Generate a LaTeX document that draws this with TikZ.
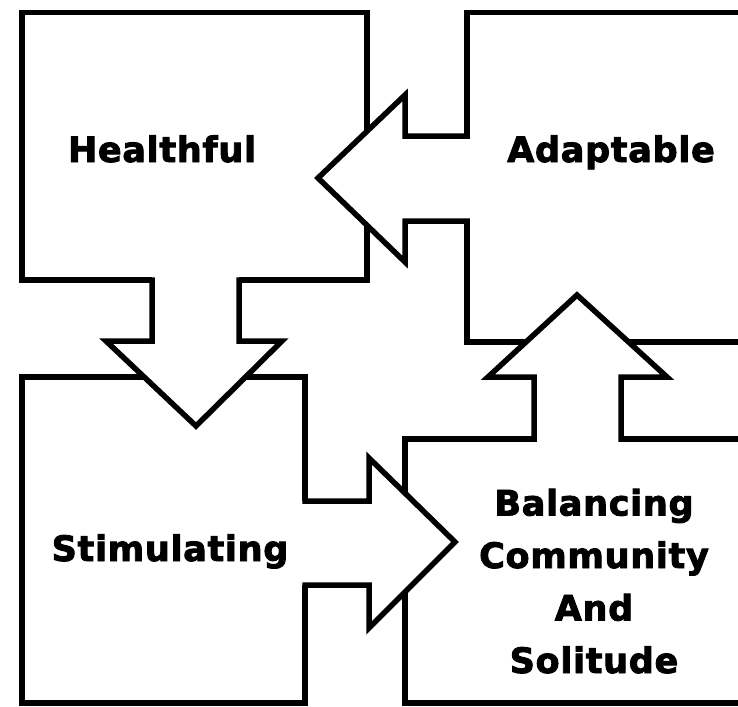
\documentclass[tikz,border=0pt]{standalone}
\usepackage{fontspec}
\newfontfamily\labelfont{DejaVu Sans}[LetterSpace=2.0, BoldFeatures={FakeBold=2.5}]
\usetikzlibrary{positioning}

\begin{document}
\begin{tikzpicture}[x=1pt, y=-1pt,
    box/.style={draw, line width=5.5pt, fill=white, rectangle, inner sep=0pt},
    lbl/.style={font=\labelfont\bfseries\fontsize{35}{52.5}\selectfont, anchor=base},
    blockfill/.style={fill=white},
    blockline/.style={draw, line width=5.5pt, line join=miter}
  ]
  \useasboundingbox (0,0) rectangle (738,706);
  \clip (0,0) rectangle (738,706);

  % the four boxes
  \node[box, minimum width=345pt, minimum height=267.5pt] (healthful)   at (194.5,146.25) {};
  \node[box, minimum width=293pt, minimum height=329.5pt] (adaptable)   at (613.5,177.25) {};
  \node[box, minimum width=283pt, minimum height=326pt]   (stimulating) at (163.5,540) {};
  \node[box, minimum width=355pt, minimum height=264pt]   (balancing)   at (582.5,571) {};

  % healthful -> stimulating
  \fill[blockfill] (152,276) -- (152,341) -- (106,341) -- (196,426) -- (282,341) -- (239,341) -- (239,276) -- cycle;
  \draw[blockline] (152,277.25) -- (152,341) -- (106,341) -- (196,426) -- (282,341) -- (239,341) -- (239,277.25);

  % adaptable -> healthful
  \fill[blockfill] (471,136) -- (405,136) -- (405,95) -- (318,178) -- (405,262) -- (405,221) -- (471,221) -- cycle;
  \draw[blockline] (469.75,136) -- (405,136) -- (405,95) -- (318,178) -- (405,262) -- (405,221) -- (469.75,221);

  % stimulating -> balancing
  \fill[blockfill] (301,501) -- (369,501) -- (369,458) -- (455,542) -- (369,628) -- (369,585) -- (301,585) -- cycle;
  \draw[blockline] (302.25,501) -- (369,501) -- (369,458) -- (455,542) -- (369,628) -- (369,585) -- (302.25,585);

  % balancing -> adaptable
  \fill[blockfill] (534,443) -- (534,377) -- (488,377) -- (577,295) -- (667,377) -- (621,377) -- (621,443) -- cycle;
  \draw[blockline] (534,441.75) -- (534,377) -- (488,377) -- (577,295) -- (667,377) -- (621,377) -- (621,441.75);

  % labels
  \node[lbl] (healthfultext)   at (162,162) {Healthful};
  \node[lbl] (adaptabletext)   at (611,162) {Adaptable};
  \node[lbl] (stimulatingtext) at (170,561) {Stimulating};
  \node[lbl, align=center] (balancingtext) at (594,673) {Balancing\\Community\\And\\Solitude};
\end{tikzpicture}
\end{document}
